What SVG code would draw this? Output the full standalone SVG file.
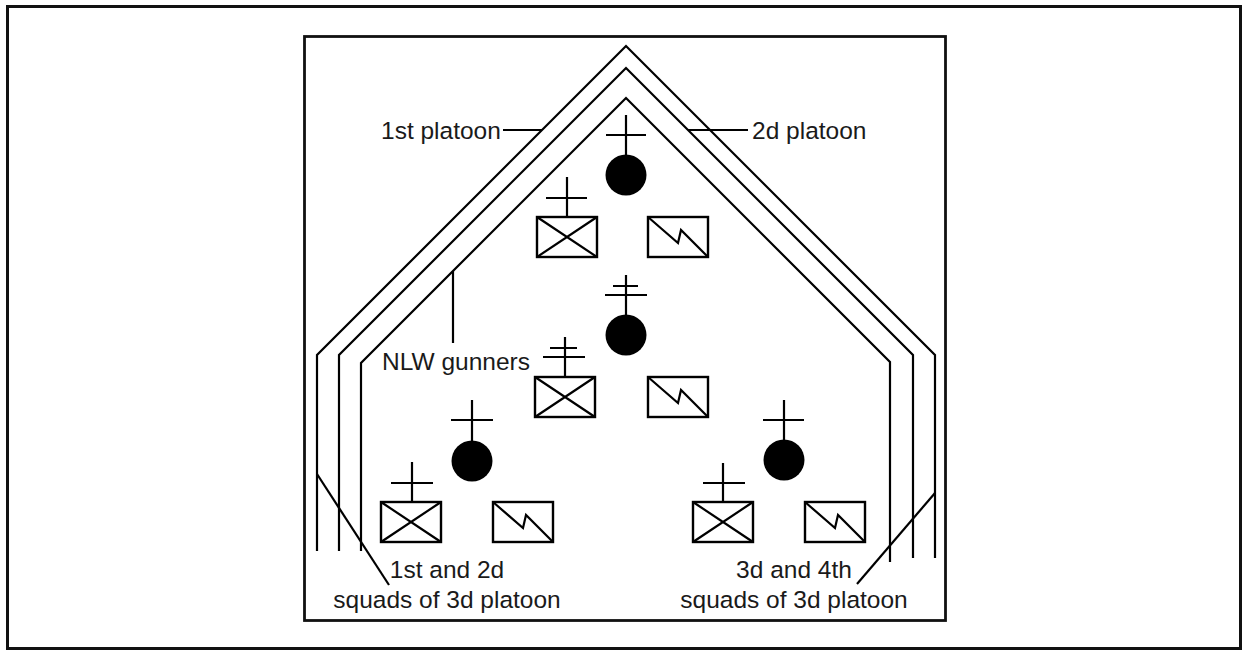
<svg xmlns="http://www.w3.org/2000/svg" width="1242" height="650" viewBox="0 0 1242 650">
<style>
  .ln { fill: none; stroke: #000; stroke-width: 2.2; }
  .box { fill: #fff; stroke: #000; stroke-width: 2.4; }
  .dot { fill: #000; }
  .lbl { font-family: "Liberation Sans", Arial, sans-serif; font-size: 24.5px; fill: #1a1a1a; }
</style>
<defs>
  <g id="xbox">
    <rect class="box" x="0" y="0" width="60" height="40"/>
    <path class="ln" d="M0,0 L60,40 M60,0 L0,40"/>
  </g>
  <g id="zbox">
    <rect class="box" x="0" y="0" width="60" height="40"/>
    <path class="ln" d="M0,0 L30,26 L33,13 L60,40"/>
  </g>
</defs>
<rect width="1242" height="650" fill="#fff"/>
<rect x="7.5" y="6.5" width="1233" height="642" fill="none" stroke="#111" stroke-width="3"/>
<rect x="304.5" y="36.5" width="641" height="584" fill="none" stroke="#111" stroke-width="2.8"/>

<g id="platoon-lines">
  <polyline class="ln" points="317,551 317,355 626,46 935,355 935,558"/>
  <polyline class="ln" points="339,551 339,355 626,68 913,355 913,558"/>
  <polyline class="ln" points="361,551 361,363 626,98 890,362 890,562"/>
</g>

<g id="connectors">
  <line class="ln" x1="503" y1="130" x2="542" y2="130"/>
  <line class="ln" x1="688" y1="130" x2="748" y2="130"/>
  <line class="ln" x1="453" y1="271" x2="453" y2="343"/>
  <line class="ln" x1="317" y1="474" x2="389" y2="585"/>
  <line class="ln" x1="935" y1="493" x2="857" y2="584"/>
</g>

<g id="top-group">
  <path class="ln" d="M626,115 L626,158 M606,135 L646,135"/>
  <circle class="dot" cx="626" cy="175" r="20.5"/>
  <path class="ln" d="M567,177 L567,217 M546,198 L587,198"/>
  <use href="#xbox" x="537" y="217"/>
  <use href="#zbox" x="648" y="217"/>
</g>

<g id="middle-group">
  <path class="ln" d="M626,275 L626,318 M613,286 L638,286 M605,295 L647,295"/>
  <circle class="dot" cx="626" cy="335" r="20.5"/>
  <path class="ln" d="M565,337 L565,377 M550,348 L577,348 M543,357 L585,357"/>
  <use href="#xbox" x="535" y="377"/>
  <use href="#zbox" x="648" y="377"/>
</g>

<g id="left-group">
  <path class="ln" d="M472,400 L472,441 M451,420 L493,420"/>
  <circle class="dot" cx="472" cy="461" r="20.5"/>
  <path class="ln" d="M412,462 L412,502 M391,483 L433,483"/>
  <use href="#xbox" x="381" y="502"/>
  <use href="#zbox" x="493" y="502"/>
</g>

<g id="right-group">
  <path class="ln" d="M784,400 L784,440 M763,420 L804,420"/>
  <circle class="dot" cx="784" cy="460" r="20.5"/>
  <path class="ln" d="M723,463 L723,502 M703,483 L745,483"/>
  <use href="#xbox" x="693" y="502"/>
  <use href="#zbox" x="805" y="502"/>
</g>

<g id="labels">
  <text class="lbl" x="381" y="139">1st platoon</text>
  <text class="lbl" x="752" y="139">2d platoon</text>
  <text class="lbl" x="382" y="370">NLW gunners</text>
  <text class="lbl" x="447" y="578" text-anchor="middle">1st and 2d</text>
  <text class="lbl" x="447" y="608" text-anchor="middle">squads of 3d platoon</text>
  <text class="lbl" x="794" y="578" text-anchor="middle">3d and 4th</text>
  <text class="lbl" x="794" y="608" text-anchor="middle">squads of 3d platoon</text>
</g>
</svg>
